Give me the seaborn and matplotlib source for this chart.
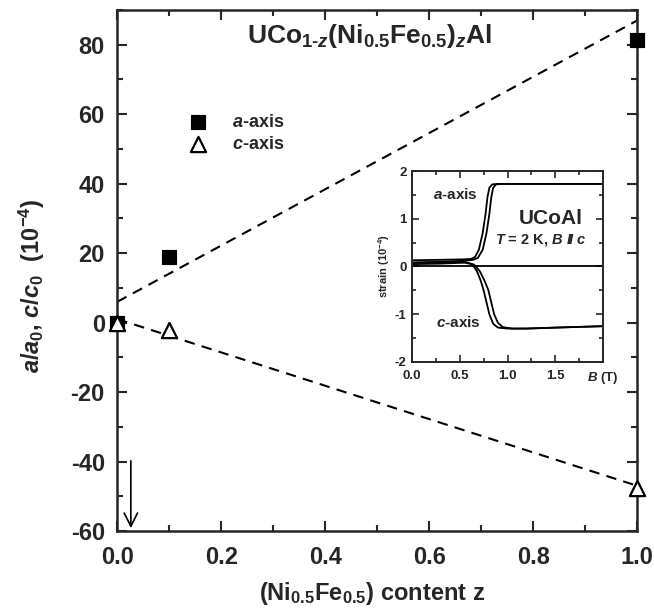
import numpy as np
import pandas as pd
import seaborn as sns
import matplotlib.pyplot as plt
from matplotlib.ticker import MultipleLocator, FixedLocator, FixedFormatter

sns.set_style('ticks')
plt.rcParams['font.family'] = ['Liberation Sans', 'DejaVu Sans']
plt.rcParams['font.weight'] = 'bold'
plt.rcParams['axes.unicode_minus'] = False
plt.rcParams['mathtext.fontset'] = 'custom'
plt.rcParams['mathtext.rm'] = 'Liberation Sans:bold'
plt.rcParams['mathtext.it'] = 'Liberation Sans:bold:italic'
plt.rcParams['mathtext.bf'] = 'Liberation Sans:bold'

# main panel data
z_a = [0.0, 0.1, 1.0]
a_strain = [0.0, 19.0, 81.5]
z_c = [0.0, 0.1, 1.0]
c_strain = [0.0, -2.2, -47.7]
# dashed guide lines (end points)
fit_z = [0.0, 1.0]
fit_a = [6.0, 87.0]
fit_c = [1.0, -47.0]

# inset: magnetostriction of UCoAl, two sweeps per axis
B_a1 = [0.0, 0.3, 0.55, 0.62, 0.66, 0.70, 0.74, 0.77, 0.79, 0.81, 0.84, 0.90, 1.2, 1.6, 2.0]
S_a1 = [0.13, 0.14, 0.15, 0.16, 0.20, 0.35, 0.70, 1.10, 1.45, 1.65, 1.72, 1.73, 1.73, 1.73, 1.73]
B_a2 = [0.0, 0.3, 0.55, 0.64, 0.69, 0.74, 0.78, 0.81, 0.83, 0.85, 0.88, 0.95, 1.2, 1.6, 2.0]
S_a2 = [0.08, 0.10, 0.12, 0.14, 0.18, 0.35, 0.70, 1.10, 1.45, 1.65, 1.72, 1.73, 1.73, 1.73, 1.73]
B_c1 = [0.0, 0.3, 0.55, 0.63, 0.68, 0.72, 0.75, 0.78, 0.81, 0.85, 0.90, 1.0, 1.2, 1.5, 2.0]
S_c1 = [0.08, 0.09, 0.10, 0.05, -0.10, -0.30, -0.50, -0.75, -1.00, -1.20, -1.28, -1.30, -1.30, -1.28, -1.25]
B_c2 = [0.0, 0.3, 0.55, 0.65, 0.71, 0.76, 0.80, 0.83, 0.86, 0.90, 0.95, 1.05, 1.2, 1.5, 2.0]
S_c2 = [0.05, 0.06, 0.08, 0.04, -0.10, -0.30, -0.50, -0.75, -1.00, -1.18, -1.27, -1.30, -1.30, -1.28, -1.25]

fig = plt.figure(figsize=(6.54, 6.09), dpi=100)
ax = fig.add_axes([0.1794, 0.1281, 0.7951, 0.8555])

sns.lineplot(x=fit_z, y=fit_a, color='black', lw=1.5, linestyle=(0, (5, 3.5)), ax=ax)
sns.lineplot(x=fit_z, y=fit_c, color='black', lw=1.5, linestyle=(0, (5, 3.5)), ax=ax)

sns.scatterplot(x=z_a, y=a_strain, marker='s', s=110, color='black', edgecolor='black',
                label='$a$-axis', ax=ax, clip_on=False, zorder=5)
sns.scatterplot(x=z_c, y=c_strain, marker='^', s=120, facecolor='white', edgecolor='black',
                linewidth=1.6, label='$c$-axis', ax=ax, clip_on=False, zorder=6)

ax.annotate('', xy=(0.026, -60), xytext=(0.026, -39),
            arrowprops=dict(arrowstyle='->', color='black', lw=1.2, mutation_scale=24))

ax.set_xlim(0, 1.0)
ax.set_ylim(-60, 90)
ax.xaxis.set_major_locator(MultipleLocator(0.2))
ax.xaxis.set_minor_locator(MultipleLocator(0.1))
ax.yaxis.set_major_locator(FixedLocator([-60, -40, -20, 0, 20, 40, 60, 80]))
ax.yaxis.set_minor_locator(MultipleLocator(10))
ax.tick_params(which='both', direction='in', top=True, right=True, width=1.5)
ax.tick_params(which='major', length=7, labelsize=17)
ax.tick_params(axis='x', which='major', pad=11)
ax.tick_params(axis='y', which='major', pad=9)
ax.tick_params(which='minor', length=4)
for sp in ax.spines.values():
    sp.set_linewidth(1.8)

ax.set_xlabel(r'(Ni$_{0.5}$Fe$_{0.5}$) content z', fontsize=17, fontweight='bold')
ax.set_ylabel(r'$a/a_0$, $c/c_0$  (10$^{-4}$)', fontsize=17, fontweight='bold')
ax.yaxis.set_label_coords(-0.135, 0.47)
ax.xaxis.set_label_coords(0.49, -0.095)

ax.text(0.485, 82.5, r'UCo$_{1\text{-}z}$(Ni$_{0.5}$Fe$_{0.5}$)$_z$Al', fontsize=19,
        ha='center', va='center')

ax.legend(loc='upper left', bbox_to_anchor=(0.12, 0.80), frameon=False, fontsize=13,
          handletextpad=0.9, labelspacing=0.25, borderaxespad=0, borderpad=0)

# inset
ins = fig.add_axes([0.630, 0.4056, 0.292, 0.3136])
for bx, sy in [(B_a1, S_a1), (B_a2, S_a2), (B_c1, S_c1), (B_c2, S_c2)]:
    sns.lineplot(x=bx, y=sy, color='black', lw=1.3, ax=ins, sort=False)
ins.axhline(0, color='black', lw=1.3)
ins.set_xlim(0, 2.0)
ins.set_ylim(-2, 2)
ins.xaxis.set_major_locator(FixedLocator([0.0, 0.5, 1.0, 1.5, 2.0]))
ins.xaxis.set_major_formatter(FixedFormatter(['0.0', '0.5', '1.0', '1.5', '$B$ (T)']))
ins.xaxis.set_minor_locator(MultipleLocator(0.25))
ins.yaxis.set_major_locator(MultipleLocator(1))
ins.yaxis.set_minor_locator(MultipleLocator(0.5))
ins.tick_params(which='both', direction='in', top=True, right=True, width=1.2)
ins.tick_params(which='major', length=5, labelsize=9.5)
ins.tick_params(axis='x', which='major', pad=6)
ins.tick_params(axis='y', which='major', pad=4)
ins.tick_params(which='minor', length=3)
for sp in ins.spines.values():
    sp.set_linewidth(1.4)
ins.set_ylabel(r'strain (10$^{-4}$)', fontsize=8, fontweight='bold', labelpad=2)
ins.set_xlabel('')
ins.text(0.45, 1.5, '$a$-axis', fontsize=11, ha='center', va='center')
ins.text(0.48, -1.18, '$c$-axis', fontsize=11, ha='center', va='center')
ins.text(1.45, 1.0, 'UCoAl', fontsize=15, ha='center', va='center')
ins.text(1.35, 0.55, r'$T$ = 2 K, $B$ $I\!I$ $c$', fontsize=10.5, ha='center', va='center')

fig.savefig('out.png', dpi=100)
